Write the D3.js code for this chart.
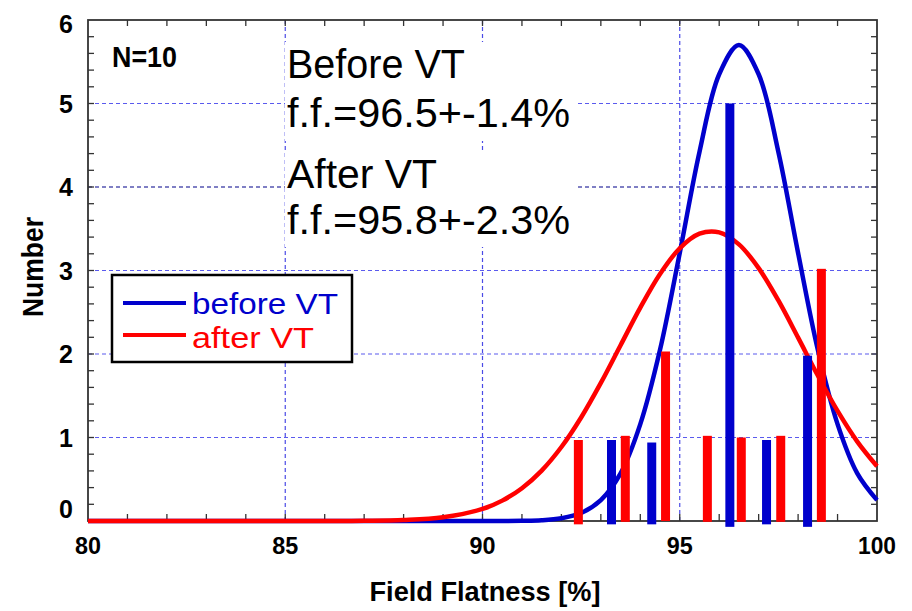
<!DOCTYPE html>
<html>
<head>
<meta charset="utf-8">
<script src="https://cdn.jsdelivr.net/npm/d3@7/dist/d3.min.js"></script>
<style>
  html, body { margin: 0; padding: 0; background: #fff; }
  svg { display: block; }
</style>
</head>
<body>
<div id="chart"></div>
<script>
// ---------- data ----------
const xTicks = [80, 85, 90, 95, 100];
const yTicks = [0, 1, 2, 3, 4, 5, 6];

// histogram bars: position (%), count height, and base
const beforeX    = [93.27, 94.29, 96.27, 97.20, 98.24];
const beforeY    = [0.97, 0.94, 5.0, 0.97, 1.98];
const beforeBase = [-0.04, -0.04, -0.07, -0.04, -0.07];

const afterX    = [92.43, 93.62, 94.64, 95.70, 96.56, 97.56, 98.59];
const afterY    = [0.97, 1.02, 2.03, 1.02, 1.0, 1.02, 3.02];
const afterBase = [-0.04, -0.01, 0, -0.01, -0.01, -0.01, -0.01];

// fitted curves, values
const curveX = [80, 84, 86, 87, 88, 89, 90, 90.5, 91, 91.5, 92, 92.5, 93, 93.5, 94, 94.5,
                95, 95.5, 96, 96.5, 97, 97.5, 98, 98.5, 99, 99.5, 100];
const beforeCurve = [0, 0, 0, 0, 0, 0, 0.0001, 0.0006, 0.0025, 0.009, 0.033, 0.096, 0.25, 0.57, 1.16, 2.05,
                     3.21, 4.42, 5.35, 5.70, 5.35, 4.42, 3.21, 2.05, 1.16, 0.57, 0.25];
const afterCurve  = [0, 0, 0.0004, 0.0023, 0.011, 0.044, 0.144, 0.244, 0.393, 0.604, 0.886, 1.24, 1.654, 2.105, 2.555, 2.958,
                     3.266, 3.441, 3.457, 3.313, 3.029, 2.641, 2.196, 1.742, 1.318, 0.951, 0.655];

const seriesNames = ["before VT", "after VT"];
const annotBefore = ["Before VT", "f.f.=96.5+-1.4%"];
const annotAfter  = ["After VT", "f.f.=95.8+-2.3%"];

// ---------- layout ----------
const W = 912, H = 611;
const L = 88, R = 877, T = 20, B = 521;
const BLUE = "#0000cc", RED = "#ff0000";
const FONT = "'Liberation Sans', Arial, Helvetica, sans-serif";

const svg = d3.select("#chart").append("svg")
  .attr("width", W).attr("height", H)
  .style("font-family", FONT);

const x = d3.scaleLinear().domain([80, 100]).range([L, R]);
const y = d3.scaleLinear().domain([0, 6]).range([B, T]);

// ---------- grid ----------
const grid = svg.append("g");
grid.selectAll("line.gx").data(xTicks.filter(v => v > 80 && v < 100)).join("line")
  .attr("x1", d => x(d)).attr("x2", d => x(d)).attr("y1", T).attr("y2", B)
  .attr("stroke", "#4a4ae6").attr("stroke-width", 1.2).attr("stroke-dasharray", "4,3");
grid.selectAll("line.gy").data(yTicks.filter(v => v > 0 && v < 6)).join("line")
  .attr("x1", L).attr("x2", R).attr("y1", d => y(d)).attr("y2", d => y(d))
  .attr("stroke", d => d === 4 ? "#00008a" : "#5a5aee").attr("stroke-width", 1.2).attr("stroke-dasharray", "4,3");

// ---------- annotation boxes (white background over the grid) ----------
svg.append("rect").attr("x", 285).attr("y", 42).attr("width", 291).attr("height", 99).attr("fill", "#fff");
svg.append("rect").attr("x", 285).attr("y", 150).attr("width", 291).attr("height", 97).attr("fill", "#fff");
const annot = svg.append("g").attr("font-size", 40).attr("fill", "#000");
annot.append("text").attr("x", 287).attr("y", 78).text(annotBefore[0])
  .attr("textLength", 178).attr("lengthAdjust", "spacingAndGlyphs");
annot.append("text").attr("x", 287).attr("y", 126.5).text(annotBefore[1])
  .attr("textLength", 283).attr("lengthAdjust", "spacingAndGlyphs");
annot.append("text").attr("x", 287).attr("y", 188).text(annotAfter[0])
  .attr("textLength", 150).attr("lengthAdjust", "spacingAndGlyphs");
annot.append("text").attr("x", 287).attr("y", 234).text(annotAfter[1])
  .attr("textLength", 283).attr("lengthAdjust", "spacingAndGlyphs");

// N=10
svg.append("text").attr("x", 112).attr("y", 67).attr("font-size", 30).attr("font-weight", "bold")
  .attr("textLength", 65).attr("lengthAdjust", "spacingAndGlyphs").text("N=10");

// ---------- legend ----------
const leg = svg.append("g");
leg.append("rect").attr("x", 112).attr("y", 275).attr("width", 240).attr("height", 87)
  .attr("fill", "#fff").attr("stroke", "#000").attr("stroke-width", 2.5);
const legY = [303, 335];
const legTextY = [314, 348];
const legColors = [BLUE, RED];
const legLen = [146, 122];
seriesNames.forEach((name, i) => {
  leg.append("line").attr("x1", 123).attr("x2", 186).attr("y1", legY[i]).attr("y2", legY[i])
    .attr("stroke", legColors[i]).attr("stroke-width", 4);
  leg.append("text").attr("x", 192).attr("y", legTextY[i]).attr("font-size", 29)
    .attr("fill", legColors[i]).attr("textLength", legLen[i]).attr("lengthAdjust", "spacingAndGlyphs")
    .text(name);
});

// ---------- frame and ticks ----------
svg.append("rect").attr("x", L).attr("y", T).attr("width", R - L).attr("height", B - T)
  .attr("fill", "none").attr("stroke", "#333").attr("stroke-width", 1.8);

const minorX = d3.range(81, 100, 1);
const minorY = d3.range(1, 30).map(i => i * 0.2);
const tk = svg.append("g").attr("stroke", "#333").attr("stroke-width", 1.3);
minorX.forEach(v => {
  tk.append("line").attr("x1", x(v)).attr("x2", x(v)).attr("y1", B).attr("y2", B - 7);
  tk.append("line").attr("x1", x(v)).attr("x2", x(v)).attr("y1", T).attr("y2", T + 6);
});
minorY.forEach(v => {
  tk.append("line").attr("x1", L).attr("x2", L + 6).attr("y1", y(v)).attr("y2", y(v));
  tk.append("line").attr("x1", R).attr("x2", R - 6).attr("y1", y(v)).attr("y2", y(v));
});

// ---------- curves ----------
const line = d3.line().x(d => x(d[0])).y(d => y(Math.max(0, d[1]))).curve(d3.curveCatmullRom.alpha(0.5));
svg.append("path").datum(curveX.map((v, i) => [v, beforeCurve[i]]))
  .attr("d", line).attr("fill", "none").attr("stroke", BLUE).attr("stroke-width", 4.5)
  .attr("stroke-linejoin", "round");
svg.append("path").datum(curveX.map((v, i) => [v, afterCurve[i]]))
  .attr("d", line).attr("fill", "none").attr("stroke", RED).attr("stroke-width", 4.5)
  .attr("stroke-linejoin", "round");

// ---------- bars ----------
const bw = x(80.228) - x(80);
const bars = svg.append("g");
function drawBars(xs, ys, bases, color) {
  bars.selectAll(null).data(xs.map((v, i) => ({ x: v, y: ys[i], b: bases[i] }))).join("rect")
    .attr("x", d => x(d.x) - bw / 2).attr("width", bw)
    .attr("y", d => y(d.y)).attr("height", d => y(d.b) - y(d.y))
    .attr("fill", color);
}
drawBars(beforeX, beforeY, beforeBase, BLUE);
drawBars(afterX, afterY, afterBase, RED);

// ---------- tick labels ----------
const yl = svg.append("g").attr("font-size", 25).attr("font-weight", "bold").attr("text-anchor", "end");
yTicks.forEach(v => {
  const off = v === 6 ? 4 : (v === 0 ? -12 : 0);
  yl.append("text").attr("x", 73).attr("y", y(v) + 9 + off).text(v);
});
const xl = svg.append("g").attr("font-size", 24).attr("font-weight", "bold").attr("text-anchor", "middle");
xTicks.forEach(v => {
  xl.append("text").attr("x", x(v)).attr("y", 554).text(v)
    .attr("textLength", v === 100 ? 38 : 26).attr("lengthAdjust", "spacingAndGlyphs");
});

// ---------- axis titles ----------
svg.append("text").attr("x", 485).attr("y", 601).attr("text-anchor", "middle")
  .attr("font-size", 28).attr("font-weight", "bold")
  .attr("textLength", 231).attr("lengthAdjust", "spacingAndGlyphs")
  .text("Field Flatness [%]");
svg.append("text").attr("transform", "translate(43,267) rotate(-90)").attr("text-anchor", "middle")
  .attr("font-size", 30).attr("font-weight", "bold")
  .attr("textLength", 100).attr("lengthAdjust", "spacingAndGlyphs")
  .text("Number");
</script>
</body>
</html>
